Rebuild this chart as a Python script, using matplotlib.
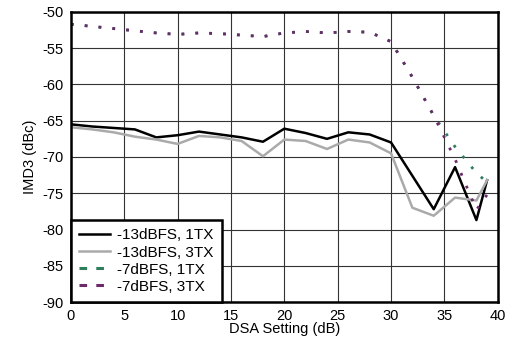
import matplotlib
matplotlib.use('Agg')
import matplotlib.pyplot as plt
from matplotlib.lines import Line2D

plt.rcParams['font.family'] = ['Liberation Sans', 'DejaVu Sans']
plt.rcParams['axes.unicode_minus'] = False

# ── data ──
dsa = [0, 2, 4, 6, 8, 10, 12, 14, 16, 18, 20, 22, 24, 26, 28, 30, 32, 34, 36, 38, 39]
imd_13_1tx = [-65.5, -65.8, -66.0, -66.2, -67.3, -67.0, -66.5, -66.9, -67.3, -67.9, -66.1,
              -66.7, -67.5, -66.6, -66.9, -68.0, -72.6, -77.2, -71.4, -78.7, -73.2]
imd_13_3tx = [-65.9, -66.2, -66.6, -67.2, -67.6, -68.2, -67.1, -67.3, -67.8, -69.9, -67.6,
              -67.8, -68.9, -67.6, -68.0, -69.5, -77.0, -78.1, -75.6, -76.0, -73.2]
imd_7_1tx = [-51.7, -52.0, -52.3, -52.6, -52.9, -53.1, -52.9, -53.0, -53.2, -53.4, -52.9,
             -52.7, -52.9, -52.7, -52.8, -54.1, -59.0, -64.3, -68.6, -72.2, -73.5]
imd_7_3tx = [-51.7, -52.0, -52.3, -52.6, -52.9, -53.1, -52.9, -53.0, -53.2, -53.4, -52.9,
             -52.7, -52.9, -52.7, -52.8, -54.1, -59.0, -64.3, -70.3, -77.3, -75.2]
labels = ['-13dBFS, 1TX', '-13dBFS, 3TX', '-7dBFS, 1TX', '-7dBFS, 3TX']
colors = ['black', '#aaaaaa', '#2e7d5b', '#6b2a6b']

fig = plt.figure(figsize=(5.1, 3.5), dpi=100)
ax = fig.add_axes([0.139, 0.137, 0.837, 0.829])

ax.plot(dsa, imd_13_1tx, color=colors[0], lw=1.8)
ax.plot(dsa, imd_13_3tx, color=colors[1], lw=1.8)
dot = (0, (1, 4))
ax.plot(dsa, imd_7_1tx, color=colors[2], lw=2.0, linestyle=dot)
ax.plot(dsa, imd_7_3tx, color=colors[3], lw=2.0, linestyle=dot)

ax.set_xlim(0, 40)
ax.set_ylim(-90, -50)
ax.set_xticks(range(0, 41, 5))
ax.set_yticks(range(-90, -49, 5))
ax.grid(True, color='#333333', lw=0.8)
ax.set_axisbelow(True)
ax.tick_params(length=0, labelsize=10.5, pad=5)
for s in ax.spines.values():
    s.set_linewidth(1.8)
    s.set_color('black')
ax.set_xlabel('DSA Setting (dB)', fontsize=10.5, labelpad=-1)
ax.set_ylabel('IMD3 (dBc)', fontsize=10.5, labelpad=4)

# legend with proxy handles (dashes in legend)
handles = [
    Line2D([], [], color=colors[0], lw=1.8),
    Line2D([], [], color=colors[1], lw=1.8),
    Line2D([], [], color=colors[2], lw=2.2, linestyle=(0, (2.5, 3))),
    Line2D([], [], color=colors[3], lw=2.2, linestyle=(0, (2.5, 3))),
]
leg = ax.legend(handles, labels, loc='lower left', fontsize=11, frameon=True,
                fancybox=False, borderaxespad=0, handlelength=2.0,
                labelspacing=0.2, borderpad=0.55, handletextpad=0.5)
leg.get_frame().set_edgecolor('black')
leg.get_frame().set_linewidth(1.8)
leg.get_frame().set_alpha(1)

plt.savefig('out.png', dpi=100)
plt.close()
